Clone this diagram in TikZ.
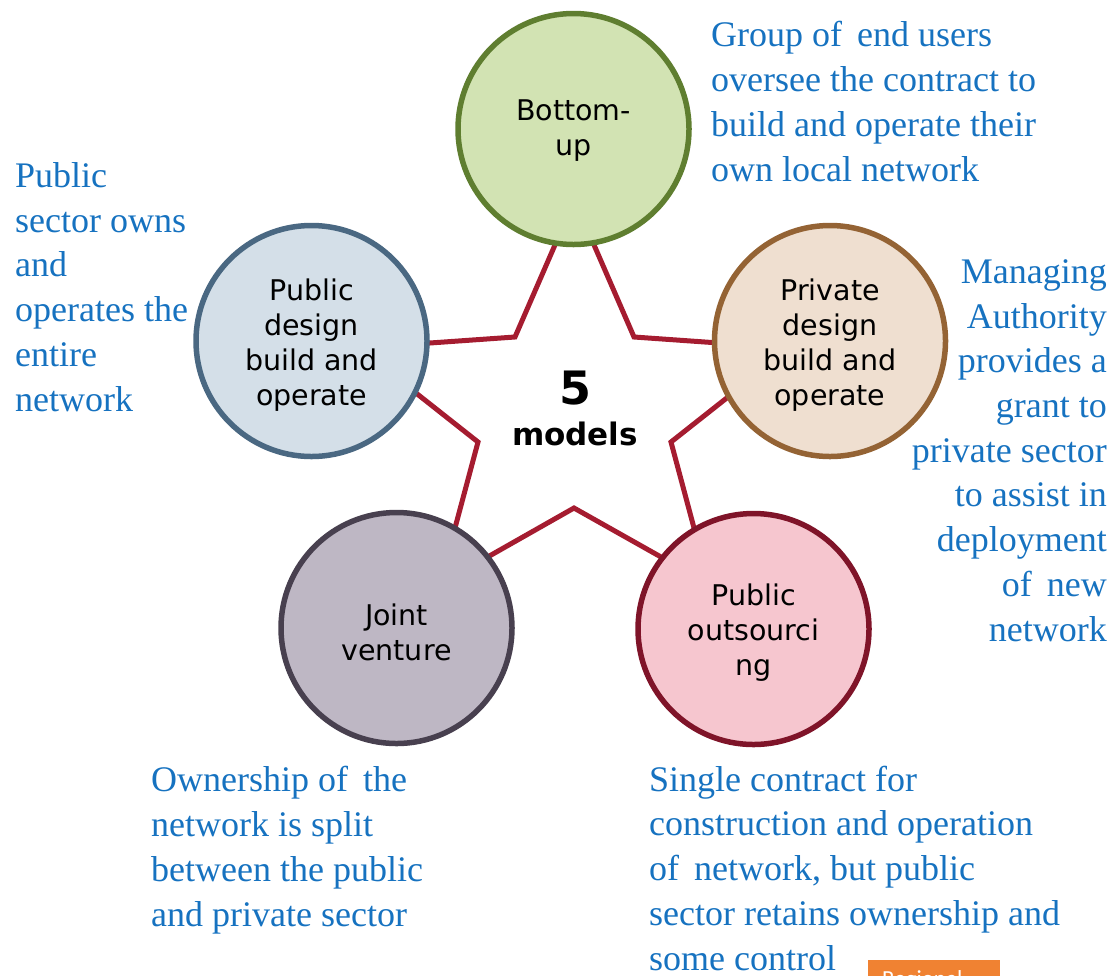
\documentclass[tikz,border=0pt]{standalone}
\usepackage{fontspec}
\setmainfont{Liberation Serif}
\newfontfamily\circfont{DejaVu Sans}
\newfontfamily\boxfont{Carlito}
\definecolor{starred}{HTML}{A51C30}
\definecolor{bufill}{HTML}{D2E3B3}
\definecolor{budraw}{HTML}{5F7E30}
\definecolor{pdfill}{HTML}{D4DFE8}
\definecolor{pddraw}{HTML}{4A6882}
\definecolor{prfill}{HTML}{EFDFD0}
\definecolor{prdraw}{HTML}{946334}
\definecolor{jvfill}{HTML}{BEB7C4}
\definecolor{jvdraw}{HTML}{48404F}
\definecolor{pofill}{HTML}{F6C6CF}
\definecolor{podraw}{HTML}{7F1429}
\definecolor{bluetext}{HTML}{1672C0}
\definecolor{orangebox}{HTML}{F08232}
\tikzset{
  model/.style={circle, line width=5.5pt, minimum size=231pt, inner sep=0pt,
    align=center, font=\circfont\fontsize{28.5}{35}\selectfont},
  modeltext/.style={inner sep=0pt, align=center, font=\circfont\fontsize{28.5}{35}\selectfont},
  desc/.style={inner sep=0pt, text=bluetext, font=\fontsize{36}{44.7}\selectfont},
  starline/.style={draw=starred, line width=5pt, line join=miter},
}
\begin{document}
\begin{tikzpicture}[x=1pt,y=-1pt]
\useasboundingbox (0,0) rectangle (1115,975);
% star behind
\coordinate (o1) at (574.5,200);
\coordinate (i1) at (634,337);
\coordinate (o2) at (790,348);
\coordinate (i2) at (671,442);
\coordinate (o3) at (709,584);
\coordinate (i3) at (574,508);
\coordinate (o4) at (440,584);
\coordinate (i4) at (478,442);
\coordinate (o5) at (359,348);
\coordinate (i5) at (515,337);
\draw[starline] (o1) -- (i1) -- (o2) -- (i2) -- (o3) -- (i3) -- (o4) -- (i4) -- (o5) -- (i5) -- cycle;
% circles
\node[model, fill=bufill, draw=budraw] (bu) at (573.5,129) {};
\node[model, fill=pdfill, draw=pddraw] (pd) at (311.5,341) {};
\node[model, fill=prfill, draw=prdraw] (pr) at (830,341) {};
\node[model, fill=jvfill, draw=jvdraw] (jv) at (396.5,628) {};
\node[model, fill=pofill, draw=podraw] (po) at (753.5,629) {};
% circle labels
\node[modeltext] (bul) at ([yshift=-2pt]bu.center) {Bottom-\\up};
\node[modeltext] (pdl) at ([yshift=-4pt]pd.center) {Public\\design\\build and\\operate};
\node[modeltext] (prl) at ([yshift=-4pt]pr.center) {Private\\design\\build and\\operate};
\node[modeltext] (jvl) at ([yshift=-4pt]jv.center) {Joint\\venture};
\node[modeltext] (pol) at ([yshift=-4pt]po.center) {Public\\outsourci\\ng};
% center
\node[font=\circfont\bfseries\fontsize{46}{50}\selectfont, anchor=base, inner sep=0pt] (five) at (575,404) {5};
\node[font=\circfont\bfseries\fontsize{31}{36}\selectfont, anchor=base, inner sep=0pt] (models) at (575,445) {models};
% descriptions (base anchor = baseline of last line)
\node[desc, anchor=base west, align=left] (dbu) at (711,181) {Group of\, end users\\oversee the contract to\\build and operate their\\own local network};
\node[desc, anchor=base west, align=left] (dpd) at (15,411) {Public\\sector owns\\and\\operates the\\entire\\network};
\node[desc, anchor=base east, align=right] (dpr) at (1107,641) {Managing\\Authority\\provides a\\grant to\\private sector\\to assist in\\deployment\\of\, new\\network};
\node[desc, anchor=base west, align=left] (djv) at (151,926) {Ownership of\, the\\network is split\\between the public\\and private sector};
\node[desc, anchor=base west, align=left] (dpo) at (649,970) {Single contract for\\construction and operation\\of\, network, but public\\sector retains ownership and\\some control};
% orange box (cut off)
\node[fill=orangebox, anchor=north west, minimum width=132pt, minimum height=40pt, inner sep=0pt] (rb) at (868,959.5) {};
\node[text=white, font=\boxfont\fontsize{23}{26}\selectfont, anchor=base west, inner sep=0pt] (rbt) at (882,986) {Regional};
\end{tikzpicture}
\end{document}
